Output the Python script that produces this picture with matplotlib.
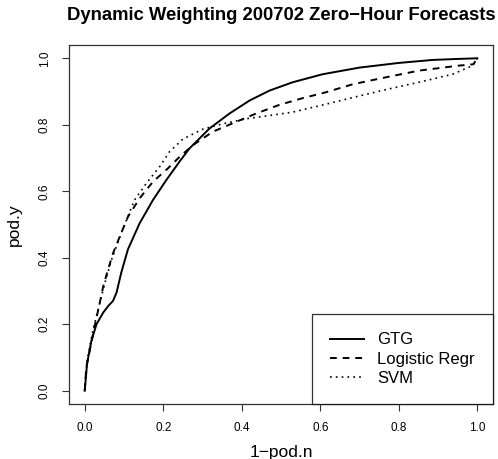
import matplotlib
matplotlib.use("Agg")
import matplotlib.pyplot as plt

plt.rcParams['font.family'] = ['Liberation Sans', 'DejaVu Sans']

# ROC-style curves (x = 1-pod.n, y = pod.y)
gtg_x = [0.0, 0.006, 0.017, 0.030, 0.047, 0.060, 0.072, 0.081, 0.093, 0.110,
         0.140, 0.174, 0.208, 0.242, 0.267, 0.318, 0.369, 0.420, 0.471, 0.530,
         0.606, 0.700, 0.800, 0.886, 0.950, 1.0]
gtg_y = [0.0, 0.082, 0.150, 0.200, 0.235, 0.255, 0.270, 0.295, 0.355, 0.425,
         0.504, 0.574, 0.634, 0.690, 0.729, 0.789, 0.834, 0.873, 0.903, 0.928,
         0.952, 0.972, 0.986, 0.995, 0.998, 1.0]

lr_x = [0.0, 0.004, 0.013, 0.025, 0.038, 0.047, 0.059, 0.072, 0.089, 0.110,
        0.140, 0.174, 0.212, 0.242, 0.276, 0.326, 0.386, 0.437, 0.496, 0.555,
        0.615, 0.683, 0.768, 0.852, 0.954, 0.990, 1.0]
lr_y = [0.0, 0.070, 0.122, 0.193, 0.263, 0.313, 0.363, 0.413, 0.463, 0.523,
        0.579, 0.629, 0.669, 0.704, 0.739, 0.779, 0.809, 0.834, 0.860, 0.880,
        0.898, 0.922, 0.943, 0.963, 0.978, 0.982, 1.0]

svm_x = [0.0, 0.003, 0.008, 0.021, 0.034, 0.051, 0.068, 0.095, 0.127, 0.157,
         0.191, 0.216, 0.250, 0.301, 0.352, 0.411, 0.471, 0.530, 0.615, 0.683,
         0.768, 0.852, 0.937, 0.988, 1.0]
svm_y = [0.0, 0.060, 0.102, 0.183, 0.243, 0.323, 0.393, 0.480, 0.574, 0.624,
         0.674, 0.719, 0.757, 0.787, 0.803, 0.818, 0.828, 0.838, 0.862, 0.882,
         0.906, 0.928, 0.952, 0.978, 1.0]

ticks = [0.0, 0.2, 0.4, 0.6, 0.8, 1.0]
tick_labels = ["0.0", "0.2", "0.4", "0.6", "0.8", "1.0"]

fig = plt.figure(figsize=(4.98, 4.59), dpi=100)
ax = fig.add_axes([0.1386, 0.1198, 0.8514, 0.7822])

ax.plot(gtg_x, gtg_y, color="black", linewidth=1.4, linestyle="-", label="GTG")
ax.plot(lr_x, lr_y, color="black", linewidth=1.4, linestyle=(0, (3.5, 3)),
        label="Logistic Regr")
ax.plot(svm_x, svm_y, color="black", linewidth=1.2, linestyle=(0, (1, 2.5)),
        label="SVM")

ax.set_xlim(-0.04, 1.04)
ax.set_ylim(-0.04, 1.04)
ax.set_xticks(ticks)
ax.set_xticklabels(tick_labels)
ax.set_yticks(ticks)
ax.set_yticklabels(tick_labels, rotation=90, va="center")
ax.tick_params(direction="out", length=5, width=0.8, labelsize=8.5, pad=8,
               colors="#333333", labelcolor="black")
for s in ax.spines.values():
    s.set_color("#333333")
    s.set_linewidth(0.9)

ax.set_xlabel("1\u2212pod.n", fontsize=12.5, labelpad=8)
ax.set_ylabel("pod.y", fontsize=12.5, labelpad=12)
fig.text(0.5643, 0.967, "Dynamic Weighting 200702 Zero\u2212Hour Forecasts",
         ha="center", va="center", fontsize=13.3, fontweight="bold")

leg = ax.legend(loc="lower right", fontsize=12, frameon=True, fancybox=False,
                borderaxespad=0, handlelength=2.0, handletextpad=0.8,
                labelspacing=0.25, borderpad=1.1, edgecolor="black")
leg.get_frame().set_linewidth(0.9)

fig.savefig("out.png", dpi=100)
